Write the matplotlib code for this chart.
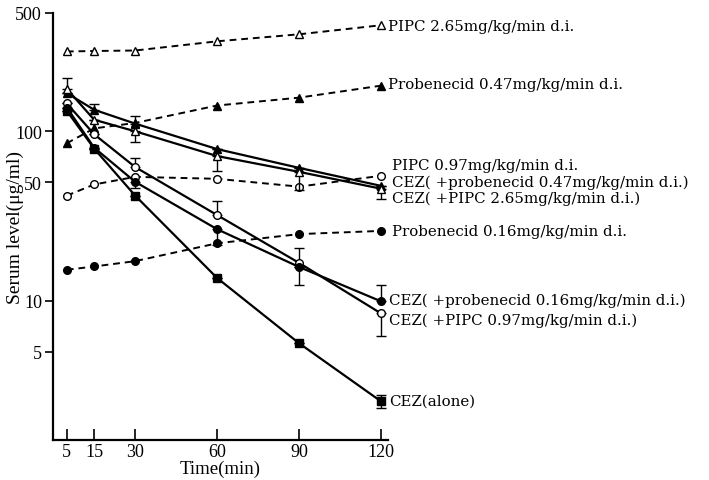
import matplotlib
matplotlib.use('Agg')
import matplotlib.pyplot as plt
import numpy as np

plt.rcParams['font.family'] = ['Liberation Serif', 'DejaVu Serif']

time_min = [5, 15, 30, 60, 90, 120]

# dashed: drug levels alone
pipc_265 = [296, 298, 300, 340, 374, 423]
prob_047 = [85, 104, 112, 142, 158, 186]
pipc_097 = [41.7, 48.5, 53.8, 52.4, 47.1, 54.6]
prob_016 = [15.2, 15.9, 17.1, 21.8, 24.7, 25.8]

# solid: CEZ levels
cez_prob047 = [168, 134, 111, 78.5, 60.8, 47.6]
cez_pipc265 = [178, 117, 100, 71.4, 57.6, 45.8]
cez_pipc097 = [146, 96, 61.5, 32, 16.7, 8.4]
cez_prob016 = [138, 80, 50.3, 26.4, 15.8, 9.9]
cez_alone = [132, 79, 41.7, 13.6, 5.6, 2.54]

# error bars (lower, upper)
err_prob047 = ([0, 0, 0, 0, 0, 0], [0, 10, 12, 0, 0, 0])
err_pipc265 = ([0, 0, 13.5, 13, 12.6, 5.8], [29, 0, 0, 0, 0, 0])
err_pipc097 = ([0, 0, 0, 0, 4.4, 2.2], [0, 0, 8.3, 7, 3.7, 0])
err_prob016 = ([0, 0, 4, 5, 0, 0], [0, 0, 0, 0, 0, 2.4])
err_alone = ([0, 0, 0, 0, 0, 0.22], [0, 0, 0, 0, 0, 0.24])

labels = ['PIPC 2.65mg/kg/min d.i.',
          'Probenecid 0.47mg/kg/min d.i.',
          'PIPC 0.97mg/kg/min d.i.',
          'CEZ( +probenecid 0.47mg/kg/min d.i.)',
          'CEZ( +PIPC 2.65mg/kg/min d.i.)',
          'Probenecid 0.16mg/kg/min d.i.',
          'CEZ( +probenecid 0.16mg/kg/min d.i.)',
          'CEZ( +PIPC 0.97mg/kg/min d.i.)',
          'CEZ(alone)']
label_x = [122.5, 122.5, 124, 124, 124, 124, 123, 123, 123]
label_y = [417, 191, 62.8, 50.3, 40.4, 25.6, 10.1, 7.75, 2.56]

fig = plt.figure(figsize=(7.09, 4.81), dpi=100)
ax = fig.add_axes([0.075, 0.083, 0.472, 0.888])

dash = (0, (3.5, 2.5))
ms = 5.5

def dashed(y, marker, fill):
    ax.plot(time_min, y, color='black', lw=1.4, linestyle=dash, marker=marker,
            ms=ms, mfc='black' if fill else 'white', mec='black', mew=1.0, zorder=2)

def solid(y, marker, fill, err):
    ax.errorbar(time_min, y, yerr=err, color='black', lw=1.6, marker=marker,
                ms=ms, mfc='black' if fill else 'white', mec='black', mew=1.0,
                ecolor='black', elinewidth=1.0, capsize=3.5, capthick=1.0, zorder=3)

dashed(pipc_265, '^', False)
dashed(prob_047, '^', True)
dashed(pipc_097, 'o', False)
dashed(prob_016, 'o', True)

solid(cez_prob047, '^', True, err_prob047)
solid(cez_pipc265, '^', False, err_pipc265)
solid(cez_pipc097, 'o', False, err_pipc097)
solid(cez_prob016, 'o', True, err_prob016)
solid(cez_alone, 's', True, err_alone)

ax.set_yscale('log')
ax.set_ylim(1.5, 500)
ax.set_xlim(0, 122.5)

ax.set_yticks([5, 10, 50, 100, 500])
ax.set_yticklabels(['5', '10', '50', '100', '500'])
ax.yaxis.set_minor_locator(matplotlib.ticker.NullLocator())
ax.set_xticks(time_min)
ax.set_xticklabels([str(t) for t in time_min])

ax.tick_params(axis='y', direction='out', length=6, width=1.2, labelsize=13, pad=2)
ax.tick_params(axis='x', direction='in', length=8, width=1.2, labelsize=13, pad=2)

for s in ['top', 'right']:
    ax.spines[s].set_visible(False)
for s in ['left', 'bottom']:
    ax.spines[s].set_linewidth(1.6)

ax.set_xlabel('Time(min)', fontsize=13.5, labelpad=0)
ax.set_ylabel('Serum level(\u03bcg/ml)', fontsize=14)
ax.yaxis.set_label_coords(-0.088, 0.5)

for t, x, y in zip(labels, label_x, label_y):
    ax.text(x, y, t, fontsize=10.8, va='center', ha='left', clip_on=False,
            family='DejaVu Serif')

fig.savefig('out.png', dpi=100)
